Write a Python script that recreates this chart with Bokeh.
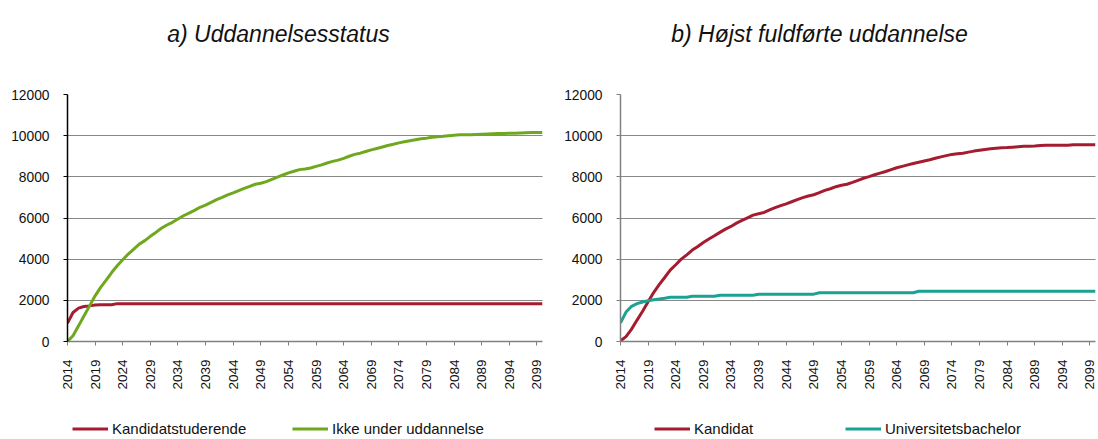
import math
from bokeh.plotting import figure
from bokeh.layouts import row, column
from bokeh.models import Range1d, FixedTicker, Legend, LegendItem, Label
from bokeh.embed import file_html
from bokeh.resources import INLINE

years = list(range(2014, 2101))
x_ticks = list(range(2014, 2100, 5))
y_ticks = [0, 2000, 4000, 6000, 8000, 10000, 12000]

title_a = "a) Uddannelsesstatus"
title_b = "b) Højst fuldførte uddannelse"

kandidatstuderende = [
    890, 1410, 1620, 1700, 1730, 1770, 1780, 1780, 1790, 1840,
    1840, 1840, 1840, 1840, 1840, 1840, 1840, 1840, 1840, 1840,
    1840, 1840, 1840, 1840, 1840, 1840, 1840, 1840, 1840, 1840,
    1840, 1840, 1840, 1840, 1840, 1840, 1840, 1840, 1840, 1840,
    1840, 1840, 1840, 1840, 1840, 1840, 1840, 1840, 1840, 1840,
    1840, 1840, 1840, 1840, 1840, 1840, 1840, 1840, 1840, 1840,
    1840, 1840, 1840, 1840, 1840, 1840, 1840, 1840, 1840, 1840,
    1840, 1840, 1840, 1840, 1840, 1840, 1840, 1840, 1840, 1840,
    1840, 1840, 1840, 1840, 1840, 1840, 1840,
]

ikke_under_uddannelse = [
    0, 280, 760, 1250, 1730, 2220, 2630, 2980, 3350, 3680,
    3970, 4250, 4490, 4730, 4900, 5110, 5300, 5500, 5660, 5790,
    5950, 6110, 6240, 6370, 6520, 6630, 6760, 6890, 7000, 7120,
    7220, 7330, 7440, 7540, 7640, 7690, 7770, 7880, 7990, 8090,
    8190, 8270, 8350, 8380, 8430, 8510, 8580, 8670, 8750, 8810,
    8900, 9000, 9090, 9150, 9230, 9310, 9380, 9450, 9520, 9580,
    9650, 9700, 9750, 9800, 9850, 9880, 9920, 9950, 9970, 10000,
    10020, 10040, 10050, 10050, 10060, 10070, 10080, 10090, 10100, 10110,
    10120, 10120, 10130, 10140, 10150, 10150, 10150,
]

kandidat = [
    30, 240, 600, 1040, 1470, 1930, 2380, 2760, 3110, 3470,
    3730, 4000, 4210, 4440, 4620, 4810, 4980, 5140, 5300, 5460,
    5590, 5750, 5880, 6010, 6140, 6210, 6270, 6390, 6500, 6600,
    6690, 6790, 6890, 6990, 7070, 7130, 7230, 7340, 7420, 7520,
    7590, 7640, 7730, 7830, 7930, 8010, 8100, 8180, 8260, 8350,
    8440, 8510, 8580, 8650, 8710, 8770, 8830, 8900, 8970, 9030,
    9090, 9120, 9150, 9200, 9250, 9290, 9330, 9360, 9390, 9410,
    9420, 9440, 9460, 9480, 9490, 9500, 9520, 9530, 9530, 9530,
    9530, 9540, 9560, 9560, 9560, 9560, 9560,
]

universitetsbachelor = [
    910, 1430, 1710, 1840, 1920, 1980, 2030, 2060, 2100, 2150,
    2150, 2150, 2150, 2200, 2200, 2200, 2200, 2200, 2250, 2250,
    2250, 2250, 2250, 2250, 2250, 2300, 2300, 2300, 2300, 2300,
    2300, 2300, 2300, 2300, 2300, 2300, 2370, 2370, 2370, 2370,
    2370, 2370, 2370, 2370, 2370, 2370, 2370, 2370, 2370, 2370,
    2370, 2370, 2370, 2370, 2440, 2440, 2440, 2440, 2440, 2440,
    2440, 2440, 2440, 2440, 2440, 2440, 2440, 2440, 2440, 2440,
    2440, 2440, 2440, 2440, 2440, 2440, 2440, 2440, 2440, 2440,
    2440, 2440, 2440, 2440, 2440, 2440, 2440,
]

RED = "#A51C30"
GREEN = "#6FA81E"
TEAL = "#1AA393"
FONT = "Liberation Sans"
W = 549
H_TITLE = 60
H_MAIN = 358
H_LEG = 21
FRAME_TOP = 94 - H_TITLE
FRAME_BOTTOM = 341 - H_TITLE


def blank_strip(height):
    q = figure(width=W, height=height, output_backend="svg", toolbar_location=None,
               x_range=Range1d(0, 1), y_range=Range1d(0, 1),
               x_axis_type=None, y_axis_type=None,
               min_border=0, min_border_left=0, min_border_right=0,
               min_border_top=0, min_border_bottom=0)
    q.outline_line_color = None
    q.xgrid.visible = False
    q.ygrid.visible = False
    return q


def make_title(text, x):
    q = blank_strip(H_TITLE)
    q.add_layout(Label(x=x, y=H_TITLE - 33, x_units="screen", y_units="screen",
                       text=text, text_align="center", text_baseline="alphabetic",
                       text_font=FONT, text_font_style="italic",
                       text_font_size="23px", text_color="#111111"))
    return q


def make_fig(bl, br, yaxis_color, series):
    p = figure(width=W, height=H_MAIN, output_backend="svg", toolbar_location=None,
               x_range=Range1d(2014, 2100), y_range=Range1d(0, 12000),
               min_border_left=bl, min_border_right=br,
               min_border_top=FRAME_TOP, min_border_bottom=H_MAIN - FRAME_BOTTOM)
    p.outline_line_color = None
    p.background_fill_color = "white"
    p.border_fill_color = "white"

    xa = p.xaxis[0]
    xa.ticker = FixedTicker(ticks=x_ticks)
    xa.major_label_orientation = math.pi / 2
    xa.major_tick_out = 4
    xa.major_tick_in = 0
    xa.minor_tick_line_color = None
    xa.axis_line_color = "#808080"
    xa.major_tick_line_color = "#808080"
    xa.axis_line_width = 1.5
    xa.major_label_text_font = FONT
    xa.major_label_text_font_size = "13.5px"
    xa.major_label_text_color = "#111111"
    xa.major_label_standoff = 14

    ya = p.yaxis[0]
    ya.ticker = FixedTicker(ticks=y_ticks)
    ya.major_tick_out = 4
    ya.major_tick_in = 0
    ya.minor_tick_line_color = None
    ya.axis_line_color = yaxis_color
    ya.major_tick_line_color = yaxis_color
    ya.axis_line_width = 1.5
    ya.major_label_text_font = FONT
    ya.major_label_text_font_size = "13.8px"
    ya.major_label_text_color = "#111111"
    ya.major_label_standoff = 14

    p.xgrid.visible = False
    p.ygrid.grid_line_color = "#111111"
    p.ygrid.grid_line_dash = "1 1"
    p.ygrid.grid_line_width = 1

    for name, vals, color in series:
        p.line(years, vals, line_color=color, line_width=3)
    return p


def make_legend(series, xs):
    q = blank_strip(H_LEG)
    for (name, vals, color), lx in zip(series, xs):
        # proxy renderer (its data lie outside this strip's ranges)
        r = q.line(years, vals, line_color=color, line_width=3)
        leg = Legend(items=[LegendItem(label=name, renderers=[r])],
                     location=(lx, 2), orientation="horizontal",
                     glyph_width=36, glyph_height=15, label_height=15,
                     label_standoff=4, padding=0, margin=0, spacing=0,
                     border_line_color=None, background_fill_alpha=0,
                     label_text_font=FONT, label_text_font_size="15px",
                     label_text_color="#111111")
        q.add_layout(leg)
    return q


series_a = [("Kandidatstuderende", kandidatstuderende, RED),
            ("Ikke under uddannelse", ikke_under_uddannelse, GREEN)]
series_b = [("Kandidat", kandidat, RED),
            ("Universitetsbachelor", universitetsbachelor, TEAL)]

t1 = make_title(title_a, 278)
t2 = make_title(title_b, 270)
p1 = make_fig(67, 7, "#000000", series_a)
p2 = make_fig(71, 3, "#808080", series_b)
l1 = make_legend(series_a, [72, 292])
l2 = make_legend(series_b, [105, 296])

layout = column(row(t1, t2), row(p1, p2), row(l1, l2))
open("out.html", "w").write(file_html(layout, INLINE))
